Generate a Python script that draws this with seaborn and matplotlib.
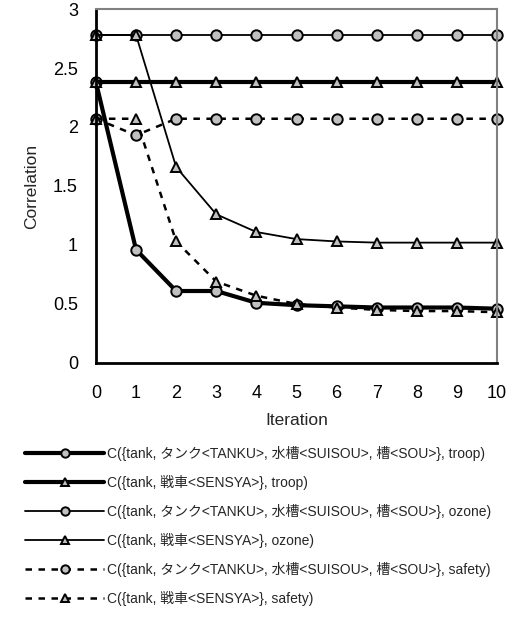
import numpy as np
import pandas as pd
import matplotlib
matplotlib.use("Agg")
import matplotlib.pyplot as plt
import seaborn as sns

# values
iterations = [0, 1, 2, 3, 4, 5, 6, 7, 8, 9, 10]
troop_tanku = [2.38, 0.96, 0.61, 0.61, 0.51, 0.49, 0.48, 0.47, 0.47, 0.47, 0.46]
troop_sensya = [2.38, 2.38, 2.38, 2.38, 2.38, 2.38, 2.38, 2.38, 2.38, 2.38, 2.38]
ozone_tanku = [2.78, 2.78, 2.78, 2.78, 2.78, 2.78, 2.78, 2.78, 2.78, 2.78, 2.78]
ozone_sensya = [2.78, 2.78, 1.66, 1.26, 1.11, 1.05, 1.03, 1.02, 1.02, 1.02, 1.02]
safety_tanku = [2.07, 1.93, 2.07, 2.07, 2.07, 2.07, 2.07, 2.07, 2.07, 2.07, 2.07]
safety_sensya = [2.07, 2.07, 1.03, 0.69, 0.57, 0.50, 0.47, 0.45, 0.44, 0.44, 0.43]

labels = [
    "C({tank, タンク<TANKU>, 水槽<SUISOU>, 槽<SOU>}, troop)",
    "C({tank, 戦車<SENSYA>}, troop)",
    "C({tank, タンク<TANKU>, 水槽<SUISOU>, 槽<SOU>}, ozone)",
    "C({tank, 戦車<SENSYA>}, ozone)",
    "C({tank, タンク<TANKU>, 水槽<SUISOU>, 槽<SOU>}, safety)",
    "C({tank, 戦車<SENSYA>}, safety)",
]
series = [troop_tanku, troop_sensya, ozone_tanku, ozone_sensya, safety_tanku, safety_sensya]

sns.set_style("white")
plt.rcParams['font.family'] = ['Liberation Sans', 'Noto Sans CJK JP', 'DejaVu Sans']

fig = plt.figure(figsize=(5.13, 6.17), dpi=100)
ax = fig.add_axes([0.187, 0.4117, 0.782, 0.5737])

styles = [
    dict(lw=3.0, marker="o", ls="-"),
    dict(lw=3.0, marker="^", ls="-"),
    dict(lw=1.3, marker="o", ls="-"),
    dict(lw=1.3, marker="^", ls="-"),
    dict(lw=1.8, marker="o", ls=(0, (2.6, 2.6))),
    dict(lw=1.8, marker="^", ls=(0, (2.6, 2.6))),
]

for vals, lab, st in zip(series, labels, styles):
    df = pd.DataFrame({"Iteration": iterations, "Correlation": vals})
    sns.lineplot(data=df, x="Iteration", y="Correlation", ax=ax, label=lab,
                 color="black", linewidth=st["lw"], linestyle=st["ls"],
                 marker=st["marker"], markersize=7.5, markerfacecolor="#c0c0c0",
                 markeredgecolor="black", markeredgewidth=1.4, clip_on=False)

ax.set_xlim(0, 10)
ax.set_ylim(0, 3)
ax.set_xticks(range(0, 11))
ax.set_yticks([0, 0.5, 1, 1.5, 2, 2.5, 3])
ax.set_yticklabels(["0", "0.5", "1", "1.5", "2", "2.5", "3"])
ax.tick_params(axis="both", direction="in", length=5, width=1.2, labelsize=13,
               colors="black")
ax.tick_params(axis="x", pad=16)
ax.tick_params(axis="y", pad=13)
ax.set_xlabel("Iteration", fontsize=12.5, labelpad=8)
ax.set_ylabel("Correlation", fontsize=12.5, labelpad=10)

for side in ["left", "bottom"]:
    ax.spines[side].set_color("black")
    ax.spines[side].set_linewidth(2)
for side in ["top", "right"]:
    ax.spines[side].set_color("#808080")
    ax.spines[side].set_linewidth(1.5)

handles, labs = ax.get_legend_handles_labels()
ax.get_legend().remove()
leg = fig.legend(handles, labs, loc="upper left", bbox_to_anchor=(0.048, 0.277),
                 frameon=False, fontsize=10, handlelength=5.75, handletextpad=0.15,
                 labelspacing=1.0, borderpad=0, borderaxespad=0)
for line in leg.get_lines():
    line.set_markersize(6)

fig.savefig("out.png", dpi=100)
